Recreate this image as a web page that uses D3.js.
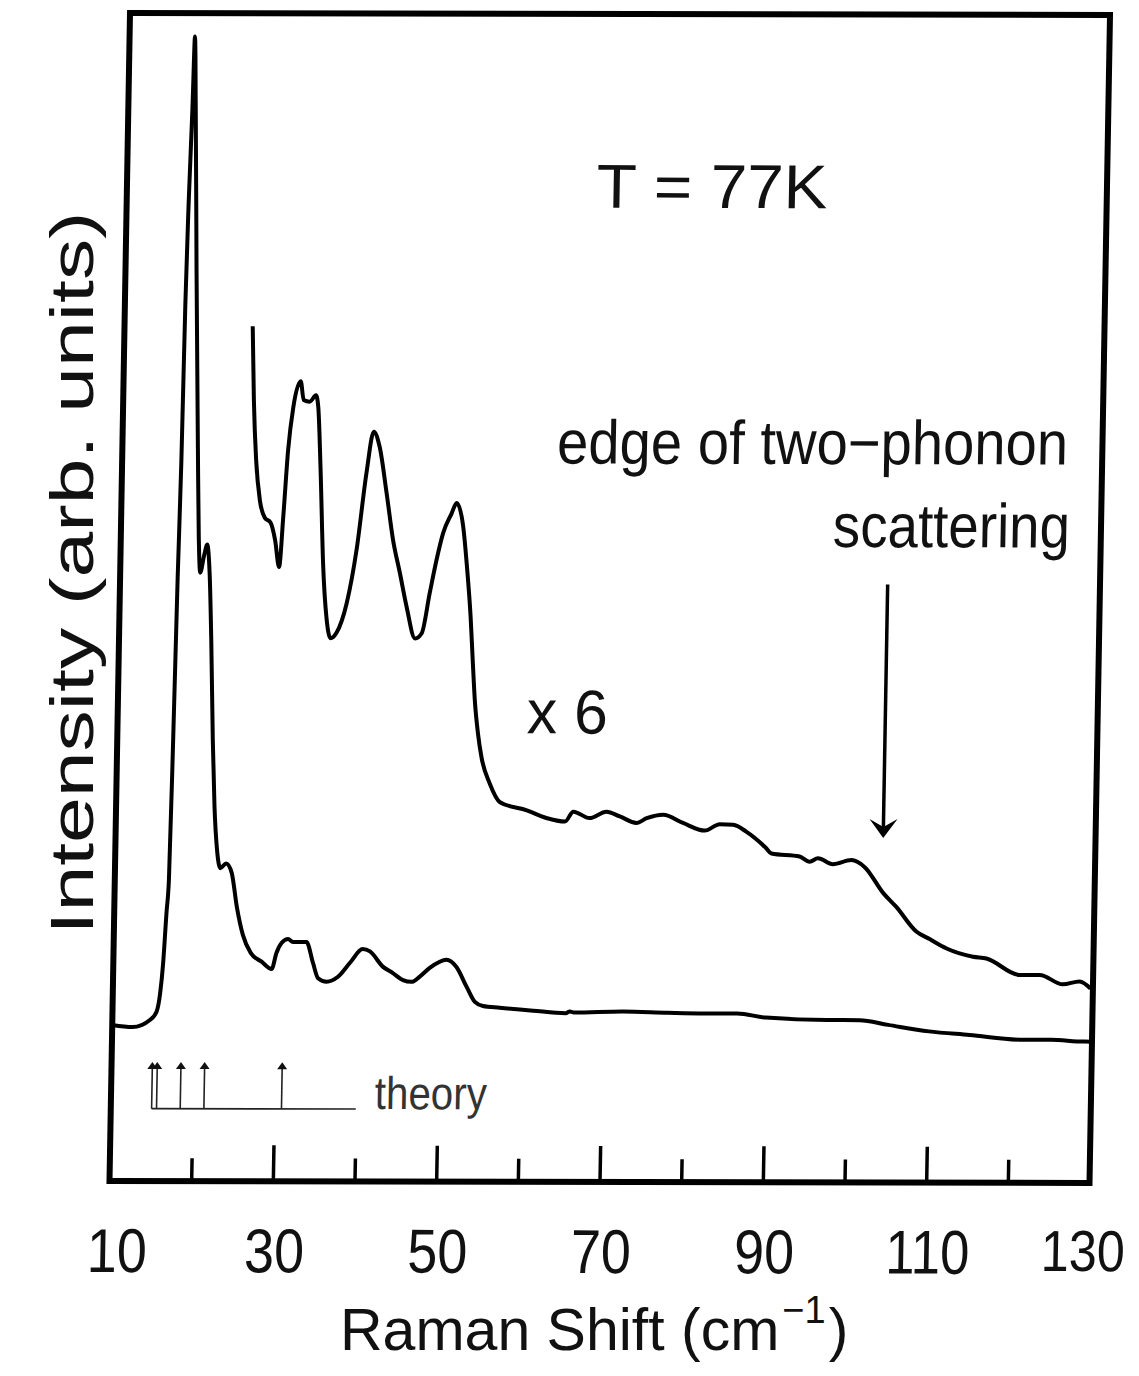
<!DOCTYPE html>
<html>
<head>
<meta charset="utf-8">
<script src="https://d3js.org/d3.v7.min.js"></script>
<style>
  body { margin: 0; background: #fff; }
  svg text { font-family: "Liberation Sans", Arimo, sans-serif; fill: #111; }
</style>
</head>
<body>
<svg id="chart" width="1139" height="1376"></svg>
<script>
var xLabelTicks = [10, 30, 50, 70, 90, 110, 130];
var majorTicks = [30, 50, 70, 90, 110];
var minorTicks = [20, 40, 60, 80, 100, 120];
var theoryModes = [15.0, 15.6, 18.5, 21.4, 30.9];

// lower trace, raw spectrum
var shiftLow = [10, 12.5, 14.6, 15.4, 15.8, 16.1, 16.4, 16.63, 16.85, 17.05, 17.25, 17.4, 17.6, 17.85, 18.0,
    18.25, 18.7, 19.25, 19.55, 19.8, 20.25, 20.6, 20.95, 21.3, 21.7, 22.05, 22.45, 22.9, 23.6, 24.3, 25.0,
    25.8, 26.8, 28.15, 29.4, 29.95, 30.55, 31.35, 31.95, 32.8, 33.6, 34.45, 35.1, 36.15, 37.5, 38.95, 40.5,
    41.4, 43.0, 44.25, 45.5, 46.55, 47.55, 48.75, 50.8, 52.0, 53.3, 54.35, 55.35, 57.4, 61.5, 65.5, 66.0,
    66.5, 72.5, 78.0, 82.5, 86.5, 90.0, 97.5, 101.5, 105.0, 110.0, 115.0, 121.5, 125.0, 129.0, 130];
var intensityLow = [13.36, 13.18, 13.79, 14.5, 16.1, 18.67, 22.95, 25.8, 38.0, 51.7, 61.5, 74.9, 84.1, 91.8, 98.0,
    92.0, 78.0, 62.7, 55.1, 52.1, 53.6, 54.5, 52.1, 46.3, 37.8, 32.1, 28.4, 26.8, 27.2, 26.4, 23.5,
    21.1, 19.55, 18.8, 18.18, 19.55, 20.4, 20.75, 20.5, 20.5, 20.5, 18.7, 17.4, 17.1, 17.5, 18.7, 19.9,
    19.7, 18.4, 17.85, 17.25, 17.1, 17.55, 18.3, 19.0, 18.4, 16.7, 15.4, 15.05, 14.9, 14.65, 14.45, 14.6,
    14.5, 14.6, 14.5, 14.45, 14.45, 14.1, 13.9, 13.9, 13.5, 12.95, 12.65, 12.25, 12.25, 12.1, 12.1];

// upper trace, magnified x 6
var shiftHigh = [25.7, 26.0, 26.4, 26.95, 27.6, 28.3, 28.9, 29.45, 29.85, 30.3, 30.85, 31.7, 32.1, 32.85, 33.6,
    33.9, 34.3, 34.85, 35.35, 35.9, 36.6, 37.8, 38.9, 39.95, 40.75, 41.5, 42.45, 43.35, 44.25, 45.15, 46.25,
    47.05, 47.95, 48.7, 49.45, 50.45, 51.05, 51.9, 52.45, 53.0, 53.35, 53.7, 54.15, 54.65, 55.7, 57.0, 60.3,
    62.7, 65.0, 66.0, 68.0, 70.05, 71.7, 73.75, 75.0, 77.0, 79.45, 82.15, 83.95, 85.6, 87.25, 89.7, 90.35,
    93.8, 95.05, 96.05, 97.9, 100.15, 101.8, 104.1, 105.75, 108.25, 109.9, 112.0, 115.25, 116.9, 121.0,
    123.45, 126.3, 128.35, 129.7];
var intensityHigh = [73.2, 66.9, 61.8, 58.3, 56.8, 56.4, 54.9, 52.6, 56.9, 62.6, 66.3, 68.5, 66.9, 66.75, 67.3,
    66.3, 61.2, 52.6, 48.3, 46.5, 46.95, 49.5, 54.1, 60.7, 64.2, 62.9, 58.95, 54.9, 52.1, 49.2, 46.5,
    46.95, 50.4, 53.2, 55.5, 57.2, 58.1, 56.1, 52.65, 48.4, 44.7, 41.2, 38.4, 36.3, 34.1, 32.5, 31.8,
    31.15, 30.85, 31.7, 31.15, 31.7, 31.3, 30.75, 31.15, 31.45, 30.75, 30.1, 30.65, 30.6, 30.0, 28.6, 28.15,
    27.9, 27.45, 27.75, 27.25, 27.6, 27.0, 24.8, 23.6, 21.5, 20.85, 20.05, 19.35, 19.2, 17.8,
    17.8, 17.0, 17.25, 16.65];

var W = 980, H = 1168;

var svg = d3.select('#chart');
svg.append('rect').attr('width', 1139).attr('height', 1376).attr('fill', '#fff');

// the scanned figure is slightly sheared, one matrix reproduces it
var plot = svg.append('g').attr('transform', 'matrix(1,0.002,-0.01755,1,130,13)');

var x = d3.scaleLinear().domain([10, 130]).range([0, W]);
var y = d3.scaleLinear().domain([0, 100]).range([H, 0]);

function zip(xs, ys) {
    return xs.map(function (v, i) { return [v, ys[i]]; });
}

// narrow plotter lettering: squeeze text to the width seen in the scan
function squeeze(sel, width) {
    sel.attr('textLength', width).attr('lengthAdjust', 'spacingAndGlyphs');
    return sel;
}

function tickAxis(values, size) {
    var g = plot.append('g')
        .attr('transform', 'translate(0,' + H + ')')
        .call(d3.axisBottom(x).tickValues(values).tickSize(-size).tickFormat(''));
    g.select('.domain').remove();
    g.selectAll('line').attr('stroke', '#000').attr('stroke-width', 3.5);
    return g;
}

tickAxis(majorTicks, 36);
tickAxis(minorTicks, 23);

var labels = plot.append('g')
    .attr('transform', 'translate(0,' + H + ')')
    .call(d3.axisBottom(x).tickValues(xLabelTicks).tickSize(0).tickPadding(47));
labels.select('.domain').remove();
labels.selectAll('text')
    .attr('font-size', function (d) { return d === 130 ? 58 : 62; })
    .attr('x', function (d) { return d === 10 ? 8 : (d === 130 ? -6 : 2); })
    .attr('textLength', function (d) { return String(d).length > 2 ? 84 : 60; })
    .attr('lengthAdjust', 'spacingAndGlyphs');

var line = d3.line()
    .x(function (d) { return x(d[0]); })
    .y(function (d) { return y(d[1]); })
    .curve(d3.curveMonotoneX);

plot.append('path')
    .datum(zip(shiftLow, intensityLow))
    .attr('d', line)
    .attr('fill', 'none').attr('stroke', '#000').attr('stroke-width', 4)
    .attr('stroke-linejoin', 'round');

plot.append('path')
    .datum(zip(shiftHigh, intensityHigh))
    .attr('d', line)
    .attr('fill', 'none').attr('stroke', '#000').attr('stroke-width', 4)
    .attr('stroke-linejoin', 'round');

// theory markers
var theoryBase = 6.2, theoryTop = 10.2;
plot.append('line')
    .attr('x1', x(theoryModes[0])).attr('x2', x(40))
    .attr('y1', y(theoryBase)).attr('y2', y(theoryBase))
    .attr('stroke', '#222').attr('stroke-width', 1.6);
var marks = plot.append('g').selectAll('g').data(theoryModes).enter().append('g')
    .attr('transform', function (d) { return 'translate(' + x(d) + ',0)'; });
marks.append('line')
    .attr('y1', y(theoryBase)).attr('y2', y(theoryTop) + 4)
    .attr('stroke', '#222').attr('stroke-width', 1.6);
marks.append('path')
    .attr('d', function () {
        var t = y(theoryTop);
        return 'M-5,' + (t + 7) + 'L0,' + t + 'L5,' + (t + 7) + 'Z';
    })
    .attr('fill', '#111');
squeeze(plot.append('text')
    .attr('x', x(42.3)).attr('y', y(6.2))
    .attr('font-size', 46).style('fill', '#333')
    .text('theory'), 112);

// annotations
squeeze(plot.append('text')
    .attr('x', x(81.65)).attr('y', y(83.4))
    .attr('text-anchor', 'middle').attr('font-size', 62)
    .text('T = 77K'), 231);
squeeze(plot.append('text')
    .attr('x', x(125.8)).attr('y', y(61.5))
    .attr('text-anchor', 'end').attr('font-size', 62)
    .text('edge of two\u2212phonon'), 511);
squeeze(plot.append('text')
    .attr('x', x(126.2)).attr('y', y(54.4))
    .attr('text-anchor', 'end').attr('font-size', 62)
    .text('scattering'), 237);
squeeze(plot.append('text')
    .attr('x', x(60.1)).attr('y', y(38.4))
    .attr('font-size', 62)
    .text('x 6'), 81);

var edgeShift = 104, arrowFrom = 51.2, arrowTo = 29.5;
plot.append('line')
    .attr('x1', x(edgeShift)).attr('x2', x(edgeShift))
    .attr('y1', y(arrowFrom)).attr('y2', y(arrowTo) - 8)
    .attr('stroke', '#000').attr('stroke-width', 3.5);
plot.append('path')
    .attr('d', function () {
        var ax = x(edgeShift), ay = y(arrowTo);
        return 'M' + ax + ',' + ay + 'L' + (ax - 14) + ',' + (ay - 19) + 'L' + ax + ',' + (ay - 11) +
            'L' + (ax + 14) + ',' + (ay - 19) + 'Z';
    })
    .attr('fill', '#000');

// frame on top
plot.append('rect')
    .attr('x', 0).attr('y', 0).attr('width', W).attr('height', H)
    .attr('fill', 'none').attr('stroke', '#000').attr('stroke-width', 6);

// axis titles
squeeze(svg.append('text')
    .attr('transform', 'translate(93,573) rotate(-90)')
    .attr('text-anchor', 'middle').attr('font-size', 62)
    .text('Intensity (arb. units)'), 723);

var xTitle = svg.append('text')
    .attr('x', 340).attr('y', 1350)
    .attr('font-size', 59);
xTitle.append('tspan').text('Raman Shift (cm');
xTitle.append('tspan').attr('font-size', 38).attr('dy', -27).attr('dx', 3).text('\u22121');
xTitle.append('tspan').attr('dy', 27).attr('dx', 3).text(')');
</script>
</body>
</html>
